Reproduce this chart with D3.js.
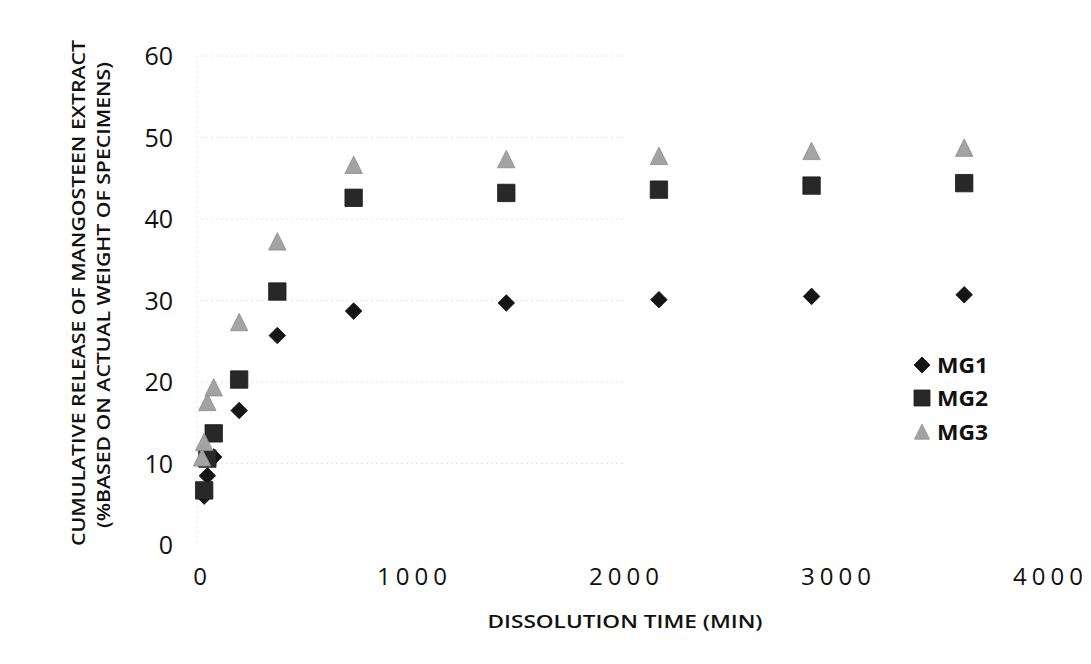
<!DOCTYPE html>
<html>
<head>
<meta charset="utf-8">
<script src="https://cdn.jsdelivr.net/npm/d3@7"></script>
<style>
  html, body { margin: 0; padding: 0; background: #fff; }
  svg { display: block; }
</style>
</head>
<body>
<script>
// Dissolution times (min) and cumulative release (%) for each formulation
const times = [5, 15, 30, 60, 180, 360, 720, 1440, 2160, 2880, 3600];
const mg1 = [null, 6.0, 8.5, 10.8, 16.5, 25.7, 28.7, 29.7, 30.1, 30.5, 30.7];
const mg2 = [null, 6.7, 10.6, 13.7, 20.3, 31.1, 42.6, 43.2, 43.6, 44.1, 44.4];
const mg3 = [10.7, 12.6, 17.5, 19.3, 27.3, 37.2, 46.6, 47.3, 47.7, 48.3, 48.7];
const seriesNames = ["MG1", "MG2", "MG3"];
const xTicks = [0, 1000, 2000, 3000, 4000];
const yTicks = [0, 10, 20, 30, 40, 50, 60];

const W = 1091, H = 664;
const svg = d3.select("body").append("svg").attr("width", W).attr("height", H);

const x = d3.scaleLinear().domain([0, 4000]).range([201, 1049]);
const y = d3.scaleLinear().domain([0, 60]).range([545, 56]);

// faint dotted gridlines
svg.append("g").selectAll("line").data(yTicks.slice(1)).join("line")
  .attr("x1", x(0)).attr("x2", x(2000))
  .attr("y1", d => y(d)).attr("y2", d => y(d))
  .attr("stroke", "#e4e4e4").attr("stroke-width", 1).attr("stroke-dasharray", "2,3");
svg.append("line")
  .attr("x1", x(0) - 4).attr("x2", x(0) - 4).attr("y1", y(60)).attr("y2", y(0))
  .attr("stroke", "#e8e8e8").attr("stroke-dasharray", "2,3");

// axes (labels only, no domain lines)
const xAxis = d3.axisBottom(x).tickValues(xTicks).tickSize(0).tickFormat(d3.format("d"));
const gx = svg.append("g").attr("transform", `translate(0,${y(0) + 32})`).call(xAxis);
gx.select(".domain").remove();
gx.selectAll("text")
  .attr("font-family", "'Open Sans', sans-serif").attr("font-size", 24)
  .attr("fill", "#111").attr("letter-spacing", 5)
  .attr("dx", 1).attr("dy", "0.2em");

const yAxis = d3.axisLeft(y).tickValues(yTicks).tickSize(0);
const gy = svg.append("g").attr("transform", `translate(${173},0)`).call(yAxis);
gy.select(".domain").remove();
gy.selectAll("text")
  .attr("font-family", "'Open Sans', sans-serif").attr("font-size", 25)
  .attr("fill", "#111").attr("x", 0).attr("dy", "0.34em");

// axis titles
svg.append("text")
  .attr("x", 625).attr("y", 628).attr("text-anchor", "middle")
  .attr("font-family", "'Open Sans', sans-serif").attr("font-weight", 600)
  .attr("font-size", 18).attr("fill", "#111")
  .attr("textLength", 275).attr("lengthAdjust", "spacingAndGlyphs")
  .text("DISSOLUTION TIME (MIN)");

const yTitle = svg.append("g")
  .attr("font-family", "'Open Sans', sans-serif").attr("font-weight", 600)
  .attr("font-size", 18.5).attr("fill", "#111").attr("text-anchor", "middle");
yTitle.append("text")
  .attr("transform", "translate(85,293) rotate(-90)")
  .attr("textLength", 506).attr("lengthAdjust", "spacingAndGlyphs")
  .text("CUMULATIVE RELEASE OF MANGOSTEEN EXTRACT");
yTitle.append("text")
  .attr("transform", "translate(110,295) rotate(-90)")
  .attr("textLength", 466).attr("lengthAdjust", "spacingAndGlyphs")
  .text("(%BASED ON ACTUAL WEIGHT OF SPECIMENS)");

// marker shapes
const shapes = {
  MG1: s => `M0,${-s}L${s},0L0,${s}L${-s},0Z`,
  MG2: s => `M${-s},${-s}H${s}V${s}H${-s}Z`,
  MG3: s => `M0,${-s * 1.05}L${s},${s * 0.95}L${-s},${s * 0.95}Z`
};
const sizes = { MG1: 8.3, MG2: 8.7, MG3: 8.7 };
const fills = { MG1: "#151515", MG2: "#282828", MG3: "#a3a3a3" };
const strokes = { MG1: "#111", MG2: "#1a1a1a", MG3: "#8c8c8c" };

const seriesData = { MG1: mg1, MG2: mg2, MG3: mg3 };
seriesNames.forEach(name => {
  const pts = times.map((t, i) => ({ t, v: seriesData[name][i] })).filter(d => d.v != null);
  svg.append("g").selectAll("path").data(pts).join("path")
    .attr("transform", d => `translate(${x(d.t)},${y(d.v)})`)
    .attr("d", shapes[name](sizes[name]))
    .attr("fill", fills[name]).attr("stroke", strokes[name]).attr("stroke-width", 0.8);
});

// legend
const legendY = [365, 398, 432];
const lg = svg.append("g");
seriesNames.forEach((name, i) => {
  lg.append("path")
    .attr("transform", `translate(922,${legendY[i]})`)
    .attr("d", shapes[name](name === "MG3" ? 7.5 : 8))
    .attr("fill", fills[name]).attr("stroke", strokes[name]).attr("stroke-width", 0.8);
  lg.append("text")
    .attr("x", 937).attr("y", legendY[i]).attr("dy", "0.36em")
    .attr("font-family", "'Open Sans', sans-serif").attr("font-weight", 700)
    .attr("font-size", 22).attr("fill", "#111")
    .attr("textLength", 51).attr("lengthAdjust", "spacingAndGlyphs")
    .text(name);
});
</script>
</body>
</html>
